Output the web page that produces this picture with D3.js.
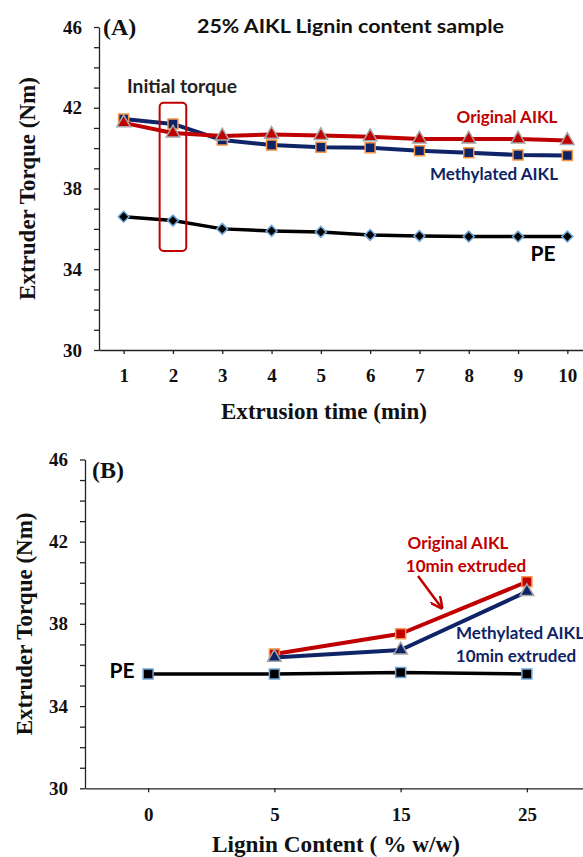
<!DOCTYPE html>
<html>
<head>
<meta charset="utf-8">
<script src="https://cdn.jsdelivr.net/npm/d3@7"></script>
<style>
  html, body { margin: 0; padding: 0; background: #fff; }
  svg { display: block; }
  .serif { font-family: "Liberation Serif", "Times New Roman", serif; font-weight: bold; fill: #111; }
  .sans  { font-family: Lato, "Open Sans", sans-serif; font-weight: bold; }
  .axis path, .axis line { stroke: #222; stroke-width: 1.3; }
  .axis text { font-family: "Liberation Serif", serif; font-weight: bold; font-size: 19px; fill: #111; }
</style>
</head>
<body>
<div id="chart"></div>
<script>
/* ── Panel A: torque vs extrusion time (25% lignin) ── */
const timeMin     = [1, 2, 3, 4, 5, 6, 7, 8, 9, 10];
const aOriginal   = [41.25, 40.75, 40.6, 40.68, 40.62, 40.56, 40.45, 40.45, 40.45, 40.38];
const aMethylated = [41.44, 41.2, 40.4, 40.15, 40.04, 40.02, 39.87, 39.77, 39.66, 39.64];
const aPE         = [36.6, 36.41, 36.0, 35.9, 35.85, 35.7, 35.65, 35.62, 35.62, 35.62];

/* ── Panel B: torque after 10 min vs lignin content ── */
const ligninContent = ['0', '5', '15', '25'];
const bPE           = [35.56, 35.56, 35.63, 35.56];
const bOriginal     = [null, 36.54, 37.52, 40.05];
const bMethylated   = [null, 36.37, 36.73, 39.57];

const torqueTicks = d3.range(30, 47);          // minor tick every 1 Nm
const torqueLabelEvery = 4;

const RED = '#c00000', NAVY = '#0f2466', ORANGE = '#f79646', GREY = '#a6a6a6', LIGHTBLUE = '#6fa8dc';

const W = 583, H = 857;
const svg = d3.select('#chart').append('svg').attr('width', W).attr('height', H);

svg.append('defs').append('marker')
  .attr('id', 'arrow').attr('viewBox', '0 0 10 10').attr('refX', 8).attr('refY', 5)
  .attr('markerWidth', 5).attr('markerHeight', 5).attr('orient', 'auto')
  .append('path').attr('d', 'M0,0 L10,5 L0,10').attr('fill', 'none')
  .attr('stroke', RED).attr('stroke-width', 2);

function yAxis(g, y) {
  g.attr('class', 'axis')
    .call(d3.axisLeft(y).tickValues(torqueTicks).tickSize(5).tickSizeOuter(0).tickPadding(12)
      .tickFormat(d => (d - 30) % torqueLabelEvery === 0 ? d : ''));
}

function drawSeries(g, data, x, y, opt) {
  const line = d3.line().defined(d => d.v != null).x(d => x(d.k)).y(d => y(d.v));
  g.append('path').datum(data).attr('d', line)
    .attr('fill', 'none').attr('stroke', opt.color).attr('stroke-width', opt.width)
    .attr('stroke-linejoin', 'round');
  g.selectAll(null).data(data.filter(d => d.v != null)).join('path')
    .attr('d', d3.symbol().type(opt.symbol).size(opt.size))
    .attr('transform', d => `translate(${x(d.k)},${y(d.v)}) rotate(${opt.rotate || 0})`)
    .attr('fill', opt.fill).attr('stroke', opt.stroke).attr('stroke-width', 1.5);
}

const zip = (ks, vs) => ks.map((k, i) => ({ k, v: vs[i] }));

/* ═══ Panel A ═══ */
const xA = d3.scaleLinear().domain([0.5, 10.5]).range([99, 592]);
const yA = d3.scaleLinear().domain([30, 46]).range([350, 27]);
const gA = svg.append('g');

gA.append('g').attr('transform', `translate(0,${yA(30)})`).attr('class', 'axis')
  .call(d3.axisBottom(xA).tickValues(timeMin).tickSize(4).tickSizeOuter(0).tickPadding(15));
gA.append('g').attr('transform', `translate(${xA(0.5)},0)`).call(g => yAxis(g, yA));

drawSeries(gA, zip(timeMin, aPE), xA, yA,
  { color: '#000', width: 3.5, symbol: d3.symbolSquare, size: 60, rotate: 45, fill: '#000', stroke: LIGHTBLUE });
drawSeries(gA, zip(timeMin, aMethylated), xA, yA,
  { color: NAVY, width: 4, symbol: d3.symbolSquare, size: 100, fill: NAVY, stroke: ORANGE });
drawSeries(gA, zip(timeMin, aOriginal), xA, yA,
  { color: RED, width: 4, symbol: d3.symbolTriangle, size: 80, fill: RED, stroke: GREY });

// "Initial torque" highlight box around minute 2
gA.append('rect')
  .attr('x', xA(1.73)).attr('y', yA(42.25))
  .attr('width', xA(2.27) - xA(1.73)).attr('height', yA(34.9) - yA(42.25))
  .attr('rx', 4).attr('fill', 'none').attr('stroke', RED).attr('stroke-width', 2);

gA.append('text').attr('class', 'serif').attr('x', 103).attr('y', 35).attr('font-size', 24).text('(A)');
gA.append('text').attr('class', 'sans').attr('x', 197).attr('y', 33)
  .attr('font-size', 19).attr('textLength', 307).attr('lengthAdjust', 'spacingAndGlyphs')
  .attr('fill', '#111').text('25% AIKL Lignin content sample');
gA.append('text').attr('class', 'sans').attr('x', 127).attr('y', 93)
  .attr('font-size', 19).attr('textLength', 110).attr('lengthAdjust', 'spacingAndGlyphs')
  .attr('fill', '#222').text('Initial torque');
gA.append('text').attr('class', 'sans').attr('x', 507).attr('y', 123).attr('text-anchor', 'middle')
  .attr('font-size', 17).attr('fill', RED).text('Original AIKL');
gA.append('text').attr('class', 'sans').attr('x', 494).attr('y', 180).attr('text-anchor', 'middle')
  .attr('font-size', 17).attr('fill', NAVY).text('Methylated AIKL');
gA.append('text').attr('class', 'sans').attr('x', 543).attr('y', 261).attr('text-anchor', 'middle')
  .attr('font-size', 21).attr('fill', '#000').text('PE');

gA.append('text').attr('class', 'serif').attr('font-size', 23).attr('text-anchor', 'middle')
  .attr('transform', `translate(27,${(yA(30) + yA(46)) / 2}) rotate(-90)`).attr('dy', '0.35em')
  .text('Extruder Torque (Nm)');
gA.append('text').attr('class', 'serif').attr('font-size', 23).attr('text-anchor', 'middle')
  .attr('x', 324).attr('y', 419).attr('textLength', 206).attr('lengthAdjust', 'spacingAndGlyphs')
  .text('Extrusion time (min)');

/* ═══ Panel B ═══ */
const xB = d3.scalePoint().domain(ligninContent).range([85, 590]).padding(0.5);
const yB = d3.scaleLinear().domain([30, 46]).range([788.3, 459.5]);
const gB = svg.append('g');

gB.append('g').attr('transform', `translate(0,${yB(30)})`).attr('class', 'axis')
  .call(d3.axisBottom(xB).tickSize(4).tickSizeOuter(0).tickPadding(15));
gB.append('g').attr('transform', `translate(85,0)`).call(g => yAxis(g, yB));

drawSeries(gB, zip(ligninContent, bPE), xB, yB,
  { color: '#000', width: 3.5, symbol: d3.symbolSquare, size: 100, fill: '#000', stroke: LIGHTBLUE });
drawSeries(gB, zip(ligninContent, bOriginal), xB, yB,
  { color: RED, width: 4, symbol: d3.symbolSquare, size: 100, fill: RED, stroke: ORANGE });
drawSeries(gB, zip(ligninContent, bMethylated), xB, yB,
  { color: NAVY, width: 4, symbol: d3.symbolTriangle, size: 80, fill: NAVY, stroke: GREY });

gB.append('text').attr('class', 'serif').attr('x', 92).attr('y', 478).attr('font-size', 24).text('(B)');
gB.append('text').attr('class', 'sans').attr('x', 122).attr('y', 678).attr('text-anchor', 'middle')
  .attr('font-size', 21).attr('fill', '#000').text('PE');
gB.append('text').attr('class', 'sans').attr('x', 458).attr('y', 549).attr('text-anchor', 'middle')
  .attr('font-size', 17).attr('fill', RED).text('Original AIKL');
gB.append('text').attr('class', 'sans').attr('x', 466).attr('y', 572).attr('text-anchor', 'middle')
  .attr('font-size', 17).attr('fill', RED).text('10min extruded');
gB.append('text').attr('class', 'sans').attr('x', 456).attr('y', 639)
  .attr('font-size', 17).attr('fill', NAVY).text('Methylated AIKL');
gB.append('text').attr('class', 'sans').attr('x', 516).attr('y', 662).attr('text-anchor', 'middle')
  .attr('font-size', 17).attr('fill', NAVY).text('10min extruded');
gB.append('line').attr('x1', 418).attr('y1', 576).attr('x2', 441).attr('y2', 607)
  .attr('stroke', RED).attr('stroke-width', 2.5).attr('marker-end', 'url(#arrow)');

gB.append('text').attr('class', 'serif').attr('font-size', 23).attr('text-anchor', 'middle')
  .attr('transform', `translate(24,${(yB(30) + yB(46)) / 2}) rotate(-90)`).attr('dy', '0.35em')
  .text('Extruder Torque (Nm)');
gB.append('text').attr('class', 'serif').attr('font-size', 23).attr('text-anchor', 'middle')
  .attr('x', 336).attr('y', 852).attr('textLength', 248).attr('lengthAdjust', 'spacingAndGlyphs')
  .text('Lignin Content ( % w/w)');
</script>
</body>
</html>
